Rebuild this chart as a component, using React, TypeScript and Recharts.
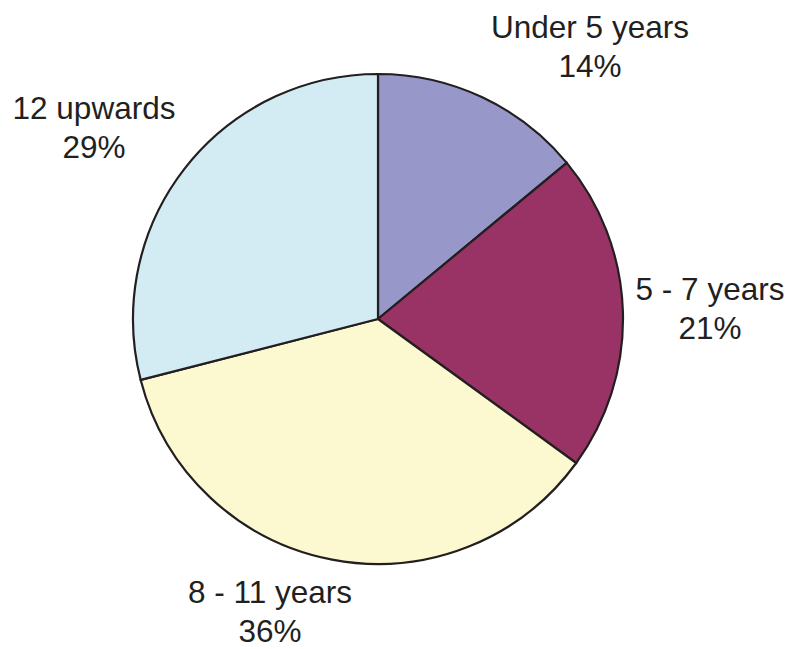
import React from 'react';
import { PieChart, Pie, Cell } from 'recharts';

const categories = ['Under 5 years', '5 - 7 years', '8 - 11 years', '12 upwards'];
const shares = [14, 21, 36, 29];
const sliceColors = ['#9797c9', '#993366', '#fcf8d0', '#d3ecf3'];

// label baseline offsets from the pie centre, one per slice
const labelOffsets: [number, number][] = [
  [212, -281],
  [332, -19],
  [-108, 284],
  [-284, -200],
];

const data = categories.map((name, i) => ({ name, value: shares[i] }));

const renderLabel = (props: any) => {
  const { cx, cy, index } = props;
  const [dx, dy] = labelOffsets[index];
  const x = cx + dx;
  const y = cy + dy;
  return (
    <text
      x={x}
      y={y}
      textAnchor="middle"
      fill="#231f20"
      fontSize={31.5}
      fontFamily="'Liberation Sans', Arial, sans-serif"
    >
      <tspan x={x} y={y}>{categories[index]}</tspan>
      <tspan x={x} y={y + 39}>{`${shares[index]}%`}</tspan>
    </text>
  );
};

export default function App() {
  return (
    <div style={{ position: 'absolute', left: 0, top: 0, background: '#fff' }}>
      <PieChart width={791} height={649} margin={{ top: 0, right: 0, bottom: 0, left: 0 }}>
        <Pie
          data={data}
          dataKey="value"
          cx={378}
          cy={319}
          outerRadius={245}
          startAngle={90}
          endAngle={-270}
          label={renderLabel}
          labelLine={false}
          isAnimationActive={false}
        >
          {data.map((entry, index) => (
            <Cell key={`cell-${index}`} fill={sliceColors[index]} stroke="#231f20" strokeWidth={2.2} />
          ))}
        </Pie>
      </PieChart>
    </div>
  );
}
